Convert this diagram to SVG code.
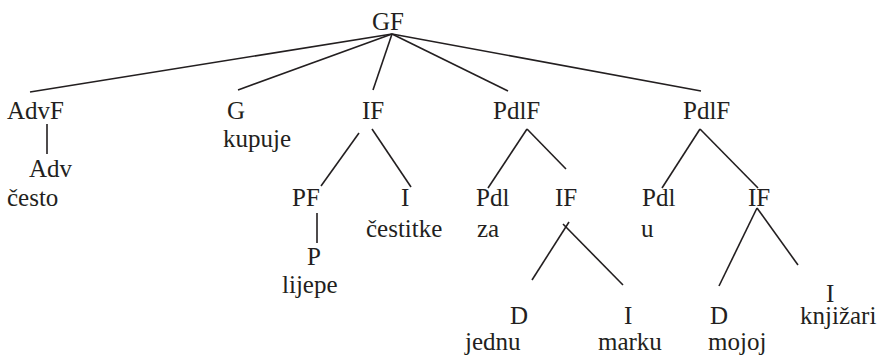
<svg xmlns="http://www.w3.org/2000/svg" width="881" height="361" viewBox="0 0 881 361">
  <style>
    text { font-size: 25px; fill: #231f20; }
    .edge { stroke: #231f20; stroke-width: 1.6; fill: none; stroke-linecap: butt; }
  </style>
  <rect width="881" height="361" fill="#ffffff"/>

  <g id="connectors">
    <line class="edge" x1="392" y1="34" x2="30" y2="92"/>
    <line class="edge" x1="392" y1="34" x2="238" y2="90"/>
    <line class="edge" x1="392" y1="34" x2="373" y2="90"/>
    <line class="edge" x1="392" y1="34" x2="508" y2="91"/>
    <line class="edge" x1="392" y1="34" x2="701" y2="91"/>
    <line class="edge" x1="47" y1="124" x2="47" y2="154"/>
    <line class="edge" x1="359" y1="133" x2="321" y2="186"/>
    <line class="edge" x1="372" y1="129" x2="411" y2="187"/>
    <line class="edge" x1="317" y1="213" x2="317" y2="243"/>
    <line class="edge" x1="527" y1="129" x2="488" y2="188"/>
    <line class="edge" x1="527" y1="129" x2="566" y2="169"/>
    <line class="edge" x1="569" y1="222" x2="532" y2="280"/>
    <line class="edge" x1="563" y1="224" x2="623" y2="285"/>
    <line class="edge" x1="700" y1="129" x2="662" y2="188"/>
    <line class="edge" x1="700" y1="129" x2="758" y2="188"/>
    <line class="edge" x1="757" y1="208" x2="719" y2="286"/>
    <line class="edge" x1="757" y1="208" x2="798" y2="265"/>
  </g>

  <g id="n-gf"><text font-family="Liberation Serif" x="372" y="30">GF</text></g>
  <g id="n-advf"><text font-family="Liberation Serif" x="7" y="119">AdvF</text></g>
  <g id="n-adv"><text font-family="Liberation Serif" x="29" y="177">Adv</text><text font-family="Liberation Serif" x="7" y="206">često</text></g>
  <g id="n-g"><text font-family="Liberation Serif" x="227" y="119">G</text><text font-family="Liberation Serif" x="223" y="147">kupuje</text></g>
  <g id="n-if1"><text font-family="Liberation Serif" x="362" y="119">IF</text></g>
  <g id="n-pf"><text font-family="Liberation Serif" x="292" y="206">PF</text></g>
  <g id="n-i1"><text font-family="Liberation Serif" x="401" y="206">I</text><text font-family="Liberation Serif" x="366" y="237">čestitke</text></g>
  <g id="n-p"><text font-family="Liberation Serif" x="307" y="265">P</text><text font-family="Liberation Serif" x="282" y="293">lijepe</text></g>
  <g id="n-pdlf1"><text font-family="Liberation Serif" x="493" y="119">PdlF</text></g>
  <g id="n-pdl1"><text font-family="Liberation Serif" x="476" y="206">Pdl</text><text font-family="Liberation Serif" x="477" y="237">za</text></g>
  <g id="n-if2"><text font-family="Liberation Serif" x="555" y="206">IF</text></g>
  <g id="n-d1"><text font-family="Liberation Serif" x="510" y="324">D</text><text font-family="Liberation Serif" x="465" y="350">jednu</text></g>
  <g id="n-i2"><text font-family="Liberation Serif" x="624" y="324">I</text><text font-family="Liberation Serif" x="598" y="350">marku</text></g>
  <g id="n-pdlf2"><text font-family="Liberation Serif" x="683" y="119">PdlF</text></g>
  <g id="n-pdl2"><text font-family="Liberation Serif" x="642" y="206">Pdl</text><text font-family="Liberation Serif" x="641" y="237">u</text></g>
  <g id="n-if3"><text font-family="Liberation Serif" x="748" y="206">IF</text></g>
  <g id="n-d2"><text font-family="Liberation Serif" x="710" y="324">D</text><text font-family="Liberation Serif" x="708" y="350">mojoj</text></g>
  <g id="n-i3"><text font-family="Liberation Serif" x="826" y="302">I</text><text font-family="Liberation Serif" x="800" y="324">knjižari</text></g>
</svg>
